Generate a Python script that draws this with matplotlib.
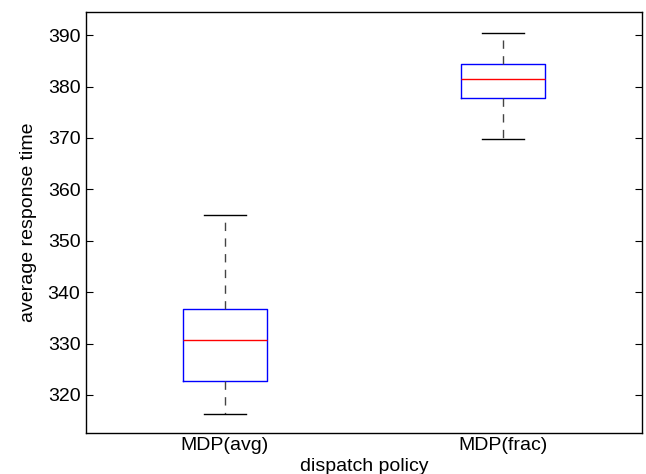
import matplotlib
matplotlib.use('Agg')
import matplotlib.pyplot as plt

# dados
policies = ['MDP(avg)', 'MDP(frac)']
whisk_lo = [316.3, 369.8]
q1 = [322.7, 377.7]
median = [330.6, 381.4]
q3 = [336.7, 384.3]
whisk_hi = [355.0, 390.4]
yticks = [320, 330, 340, 350, 360, 370, 380, 390]

plt.rcParams['font.family'] = ['Liberation Sans', 'DejaVu Sans']

fig = plt.figure(figsize=(6.46, 4.74), dpi=100)
ax = fig.add_axes([0.1331, 0.0865, 0.8607, 0.8882])

stats = []
for i in range(len(policies)):
    stats.append({'whislo': whisk_lo[i], 'q1': q1[i], 'med': median[i],
                  'q3': q3[i], 'whishi': whisk_hi[i], 'fliers': [],
                  'label': policies[i]})

ax.bxp(stats, positions=[1, 2], widths=0.3, showfliers=False,
       boxprops=dict(color='blue', linewidth=1.0),
       medianprops=dict(color='red', linewidth=1.0),
       whiskerprops=dict(color='#444444', linestyle=(0, (6, 5.3)), linewidth=1.0),
       capprops=dict(color='black', linewidth=1.0),
       capwidths=0.15)

ax.set_xlim(0.5, 2.5)
ax.set_ylim(312.6, 394.5)
ax.set_yticks(yticks)
ax.set_xticks([1, 2])
ax.set_xticklabels(policies)
ax.tick_params(axis='y', direction='in', length=5, right=True, labelsize=14, pad=4)
ax.tick_params(axis='x', length=0, labelsize=14, pad=3)
for s in ax.spines.values():
    s.set_linewidth(1.0)

ax.set_xlabel('dispatch policy', fontsize=14, labelpad=3)
ax.set_ylabel('average response time', fontsize=14, labelpad=8)

fig.savefig('out.png', dpi=100)
